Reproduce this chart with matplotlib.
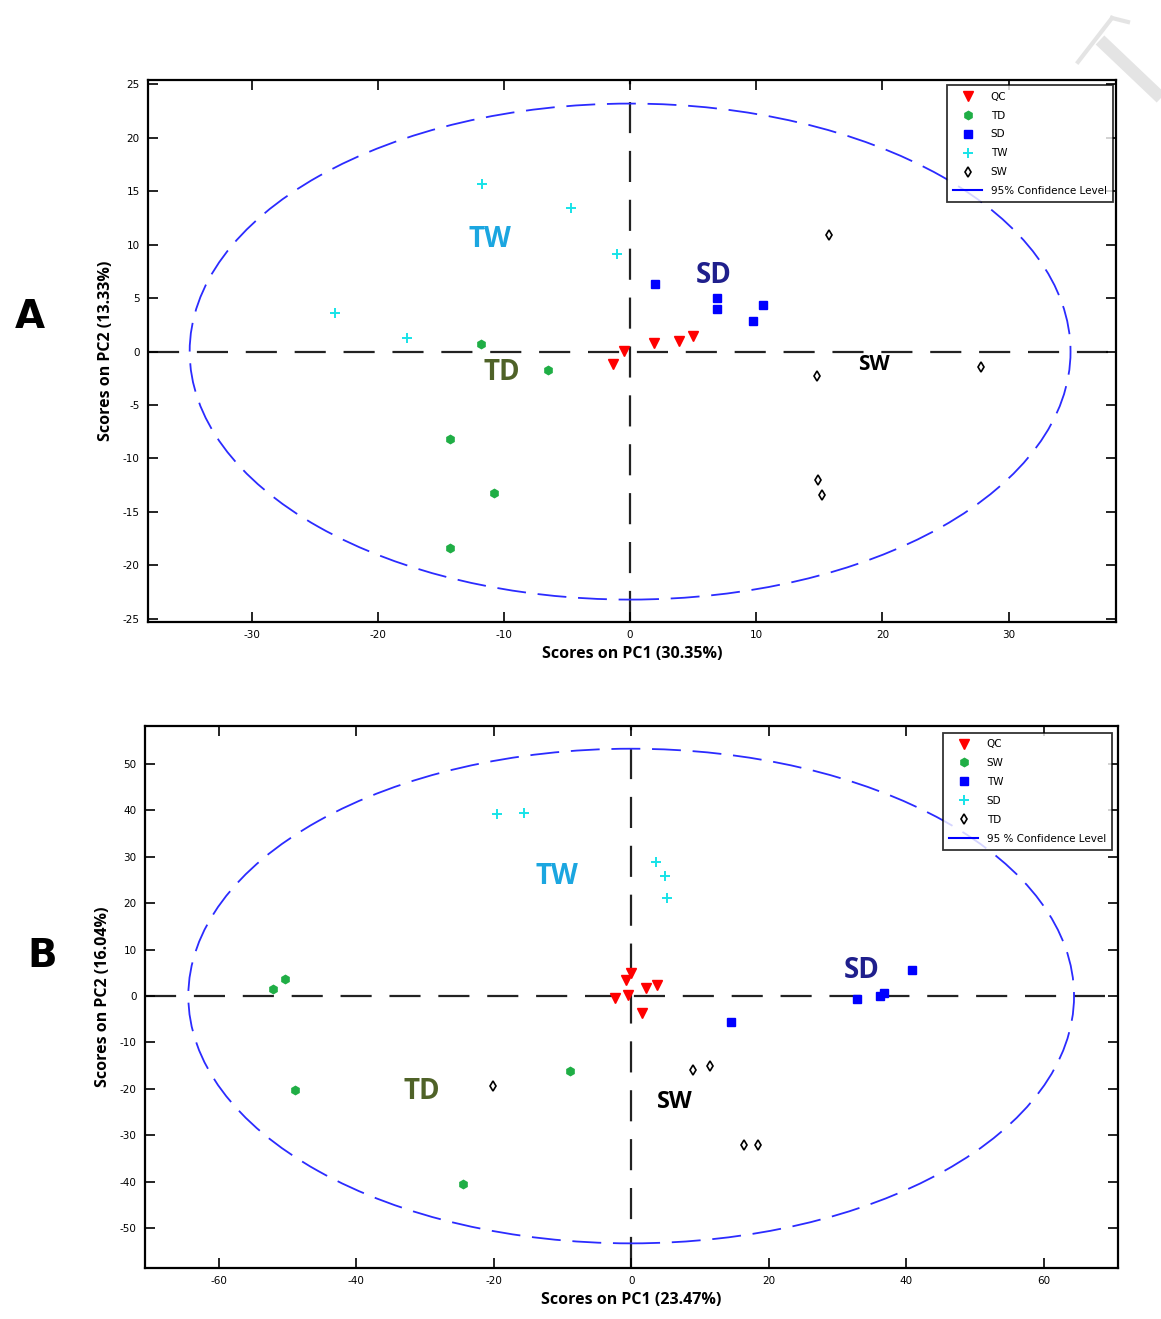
import matplotlib
matplotlib.use('Agg')
import matplotlib.pyplot as plt
from matplotlib.patches import Ellipse
from matplotlib.lines import Line2D

plt.rcParams['axes.unicode_minus'] = False

# ---- panel A data (PC1 30.35%, PC2 13.33%) ----
a_qc_x = [-1.35, -0.5, 1.9, 3.9, 5.0]
a_qc_y = [-1.2, 0.1, 0.8, 1.0, 1.5]
a_td_x = [-11.8, -6.5, -14.3, -10.8, -14.3]
a_td_y = [0.75, -1.7, -8.2, -13.2, -18.4]
a_sd_x = [2.0, 6.9, 6.9, 9.7, 10.5]
a_sd_y = [6.3, 5.0, 4.0, 2.9, 4.4]
a_tw_x = [-11.7, -4.7, -1.0, -23.4, -17.7]
a_tw_y = [15.7, 13.4, 9.1, 3.6, 1.3]
a_sw_x = [15.8, 14.8, 27.8, 14.9, 15.2]
a_sw_y = [10.9, -2.3, -1.4, -12.0, -13.4]
a_ellipse = (34.9, 23.2)   # semi-axes of 95% confidence ellipse

# ---- panel B data (PC1 23.47%, PC2 16.04%) ----
b_qc_x = [0.0, -0.7, -2.3, -0.4, 2.2, 3.8, 1.6]
b_qc_y = [5.0, 3.4, -0.4, 0.2, 1.7, 2.4, -3.7]
b_g_x = [-52.1, -50.3, -48.9, -24.4, -8.9]
b_g_y = [1.5, 3.7, -20.3, -40.5, -16.2]
b_b_x = [14.5, 32.9, 36.2, 36.7, 40.9]
b_b_y = [-5.6, -0.6, 0.0, 0.6, 5.6]
b_c_x = [-19.5, -15.6, 3.6, 4.9, 5.2]
b_c_y = [39.2, 39.4, 28.9, 25.9, 21.1]
b_k_x = [-20.1, 9.0, 11.5, 16.4, 18.5]
b_k_y = [-19.4, -15.9, -15.1, -32.1, -32.1]
b_ellipse = (64.4, 53.3)

RED = '#ff0000'
GREEN = '#1fae45'
BLUE = '#0000ff'
CYAN = '#17e3e8'
ELL = '#2b2bff'

fig = plt.figure(figsize=(11.61, 13.19), dpi=100)


def style_axes(ax, xlim, ylim, xticks, yticks, xlabel, ylabel):
    ax.set_xlim(xlim)
    ax.set_ylim(ylim)
    ax.set_xticks(xticks)
    ax.set_yticks(yticks)
    ax.tick_params(direction='in', length=7, width=1.2, top=True, right=True,
                   labelsize=7.5, pad=6)
    for s in ax.spines.values():
        s.set_linewidth(1.6)
    ax.axhline(0, color='#222222', lw=1.6, dashes=(14, 8), zorder=1)
    ax.axvline(0, color='#222222', lw=1.6, dashes=(14, 8), zorder=1)
    ax.set_xlabel(xlabel, fontsize=11.5, fontweight='bold', family='Open Sans', labelpad=4)
    ax.set_ylabel(ylabel, fontsize=11.5, fontweight='bold', family='Open Sans', labelpad=6)


def draw_points(ax, groups):
    handles = []
    for x, y, mk, col, name in groups:
        if mk == 'd':
            ax.plot(x, y, ls='none', marker='d', ms=5, mfc='white', mec='black', mew=1.2, zorder=3)
            handles.append(Line2D([], [], ls='none', marker='d', ms=5, mfc='white', mec='black', mew=1.2, label=name))
        elif mk == '+':
            ax.plot(x, y, ls='none', marker='+', ms=7, mew=1.4, color=col, zorder=3)
            handles.append(Line2D([], [], ls='none', marker='+', ms=7, mew=1.4, color=col, label=name))
        elif mk == 'v':
            ax.plot(x, y, ls='none', marker='v', ms=6.5, color=col, zorder=3)
            handles.append(Line2D([], [], ls='none', marker='v', ms=6.5, color=col, label=name))
        else:
            ax.plot(x, y, ls='none', marker=mk, ms=6, color=col, zorder=3)
            handles.append(Line2D([], [], ls='none', marker=mk, ms=6, color=col, label=name))
    handles.append(Line2D([], [], color=BLUE, lw=1.5, label='95% Confidence Level'))
    return handles


def add_legend(ax, handles, anchor):
    leg = ax.legend(handles=handles, loc='upper right', bbox_to_anchor=anchor, fontsize=7.5,
                    frameon=True, fancybox=False, edgecolor='black', borderpad=0.6,
                    labelspacing=0.85, handlelength=2.8, handletextpad=0.8, borderaxespad=0)
    leg.get_frame().set_linewidth(1.3)
    return leg


# ---------------- Panel A ----------------
axA = fig.add_axes([0.1275, 0.5284, 0.8337, 0.4109])
style_axes(axA, (-38.2, 38.5), (-25.3, 25.4), range(-30, 31, 10), range(-25, 26, 5),
           'Scores on PC1 (30.35%)', 'Scores on PC2 (13.33%)')
axA.add_patch(Ellipse((0, 0), 2 * a_ellipse[0], 2 * a_ellipse[1], fill=False,
                      edgecolor=ELL, lw=1.3, ls=(0, (16, 6.5)), zorder=2))
hA = draw_points(axA, [
    (a_qc_x, a_qc_y, 'v', RED, 'QC'),
    (a_td_x, a_td_y, 'h', GREEN, 'TD'),
    (a_sd_x, a_sd_y, 's', BLUE, 'SD'),
    (a_tw_x, a_tw_y, '+', CYAN, 'TW'),
    (a_sw_x, a_sw_y, 'd', 'black', 'SW'),
])
add_legend(axA, hA, (0.997, 0.99))
axA.text(-11.1, 10.5, 'TW', color='#1ba6e0', fontsize=20, fontweight='bold', ha='center', va='center', family='Open Sans')
axA.text(6.6, 7.1, 'SD', color='#1f1f8c', fontsize=20, fontweight='bold', ha='center', va='center', family='Open Sans')
axA.text(-10.2, -2.0, 'TD', color='#4f6228', fontsize=20, fontweight='bold', ha='center', va='center', family='Open Sans')
axA.text(19.3, -1.2, 'SW', color='black', fontsize=15, fontweight='bold', ha='center', va='center', family='Open Sans')
fig.text(0.026, 0.760, 'A', fontsize=28, fontweight='bold', ha='center', va='center')

# ---------------- Panel B ----------------
axB = fig.add_axes([0.1249, 0.0387, 0.8381, 0.4109])
style_axes(axB, (-70.7, 70.8), (-58.6, 58.2), range(-60, 61, 20), range(-50, 51, 10),
           'Scores on PC1 (23.47%)', 'Scores on PC2 (16.04%)')
axB.add_patch(Ellipse((0, 0), 2 * b_ellipse[0], 2 * b_ellipse[1], fill=False,
                      edgecolor=ELL, lw=1.3, ls=(0, (16, 6.5)), zorder=2))
hB = draw_points(axB, [
    (b_qc_x, b_qc_y, 'v', RED, 'QC'),
    (b_g_x, b_g_y, 'h', GREEN, 'SW'),
    (b_b_x, b_b_y, 's', BLUE, 'TW'),
    (b_c_x, b_c_y, '+', CYAN, 'SD'),
    (b_k_x, b_k_y, 'd', 'black', 'TD'),
])
hB[-1].set_label('95 % Confidence Level')
add_legend(axB, hB, (0.994, 0.987))
axB.text(-10.8, 25.8, 'TW', color='#1ba6e0', fontsize=20, fontweight='bold', ha='center', va='center', family='Open Sans')
axB.text(33.5, 5.5, 'SD', color='#1f1f8c', fontsize=20, fontweight='bold', ha='center', va='center', family='Open Sans')
axB.text(-30.5, -20.5, 'TD', color='#4f6228', fontsize=20, fontweight='bold', ha='center', va='center', family='Open Sans')
axB.text(6.3, -22.8, 'SW', color='black', fontsize=17, fontweight='bold', ha='center', va='center', family='Open Sans')
fig.text(0.036, 0.275, 'B', fontsize=28, fontweight='bold', ha='center', va='center')

# faint watermark fragment in the top right corner (drawn as strokes)
W, H = 1161.0, 1319.0
wm = '#e4e4e4'
fig.add_artist(Line2D([1100 / W, 1161 / W], [1 - 40 / H, 1 - 98 / H], color=wm, lw=9, solid_capstyle='butt'))
fig.add_artist(Line2D([1078 / W, 1112 / W], [1 - 62 / H, 1 - 18 / H], color=wm, lw=3))
fig.add_artist(Line2D([1112 / W, 1128 / W], [1 - 18 / H, 1 - 22 / H], color=wm, lw=3))

fig.savefig('out.png', dpi=100)
